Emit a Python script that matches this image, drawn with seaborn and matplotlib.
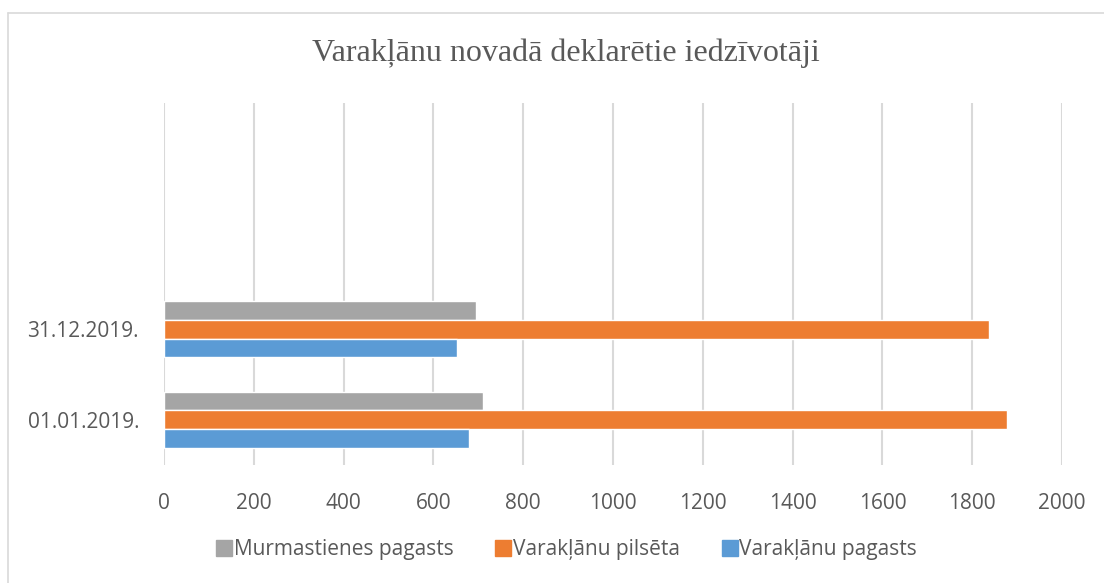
import pandas as pd
import numpy as np
import seaborn as sns
import matplotlib.pyplot as plt
from matplotlib.lines import Line2D

# data
dates = ["01.01.2019.", "31.12.2019."]
murmastienes_pagasts = [710, 694]
varaklanu_pilseta = [1877, 1837]
varaklanu_pagasts = [679, 652]
series_names = ["Murmastienes pagasts", "Varakļānu pilsēta", "Varakļānu pagasts"]
x_ticks = [0, 200, 400, 600, 800, 1000, 1200, 1400, 1600, 1800, 2000]
title = "Varakļānu novadā deklarētie iedzīvotāji"

rows = []
for i, d in enumerate(dates):
    rows.append((d, series_names[0], murmastienes_pagasts[i]))
    rows.append((d, series_names[1], varaklanu_pilseta[i]))
    rows.append((d, series_names[2], varaklanu_pagasts[i]))
df = pd.DataFrame(rows, columns=["date", "series", "value"])

colors = ["#a5a5a5", "#ed7d31", "#5b9bd5"]
text_col = "#595959"
grid_col = "#d9d9d9"

sns.set_style("white")
plt.rcParams["font.family"] = ["Open Sans", "DejaVu Sans"]

fig = plt.figure(figsize=(11.04, 5.83), dpi=100)
ax = fig.add_axes([0.1486, 0.2024, 0.962 - 0.1486, 0.823 - 0.2024])

# Excel leaves two empty category slots on top
order = ["", " ", dates[1], dates[0]]
sns.barplot(data=df, y="date", x="value", hue="series", order=order,
            hue_order=series_names, palette=colors, orient="h",
            width=0.62, gap=0, saturation=1, ax=ax, legend=False)

ax.set_xlim(0, 2000)
ax.set_xticks(x_ticks)
ax.set_xticklabels([str(t) for t in x_ticks])
ax.set_xlabel("")
ax.set_ylabel("")
ax.grid(axis="x", color=grid_col, linewidth=1.5)
ax.grid(axis="y", visible=False)
ax.set_axisbelow(True)
for s in ax.spines.values():
    s.set_visible(False)
ax.tick_params(axis="both", length=0, labelsize=15, colors=text_col)
ax.tick_params(axis="x", pad=20)
ax.tick_params(axis="y", pad=18)

fig.text(0.513, 0.908, title, ha="center", va="center",
         family="Liberation Serif", fontsize=23, color=text_col)

handles = [Line2D([0], [0], marker="s", linestyle="none", markersize=11,
                  markerfacecolor=c, markeredgecolor=c) for c in colors]
fig.legend(handles, series_names, loc="center", bbox_to_anchor=(0.513, 0.057),
           ncol=3, frameon=False, fontsize=15, labelcolor=text_col,
           handletextpad=0.05, columnspacing=2.0, handlelength=0.8)

# chart area border (top and left visible)
fig.add_artist(Line2D([7.5 / 1104, 1.0], [1 - 13 / 583, 1 - 13 / 583],
                      color=grid_col, linewidth=1.2, transform=fig.transFigure))
fig.add_artist(Line2D([7.5 / 1104, 7.5 / 1104], [1 - 13 / 583, 0.0],
                      color=grid_col, linewidth=1.2, transform=fig.transFigure))

fig.savefig("out.png", dpi=100, facecolor="white")
